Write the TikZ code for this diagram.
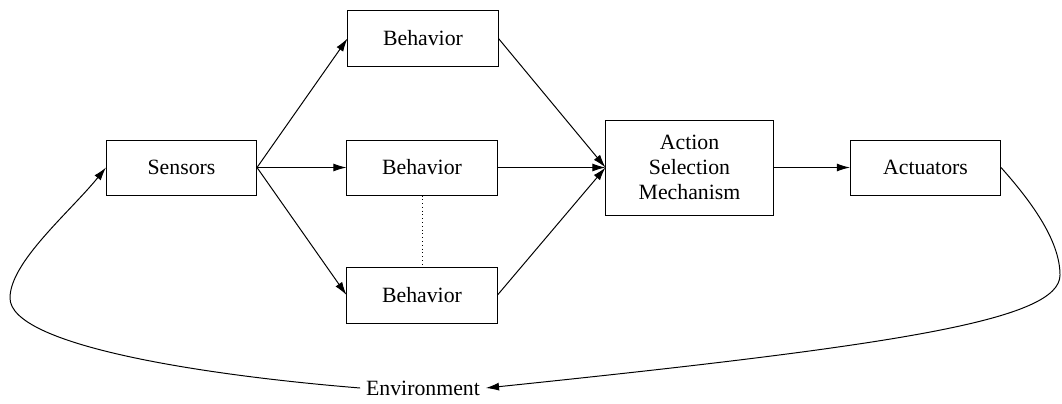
\documentclass[tikz,border=0pt]{standalone}
\usepackage{fontspec}
\setmainfont{Liberation Serif}
\usetikzlibrary{arrows.meta}

\begin{document}
\begin{tikzpicture}[x=0.025cm, y=-0.025cm,
    box/.style={draw, line width=0.7pt, minimum width=3.75cm, minimum height=1.4cm,
                align=center, font=\rmfamily\fontsize{15.5}{18}\selectfont},
    flow/.style={-{Latex[length=3.3mm,width=2mm]}, line width=0.7pt}]
    % --- 1. 外框 ---
    \useasboundingbox (0,0) rectangle (1062,403);

    % --- 2. 方塊 ---
    \node[box, minimum height=1.375cm] (sensors) at (181.5,167.5) {Sensors};
    \node[box] (behA) at (423,38.5) {Behavior};
    \node[box, minimum height=1.375cm] (behB) at (422,167.5) {Behavior};
    \node[box] (behC) at (422,295) {Behavior};
    \node[box, minimum width=4.175cm, minimum height=2.375cm] (asm) at (689.5,167.5)
        {Action\\Selection\\Mechanism};
    \node[box, minimum height=1.375cm] (actuators) at (925.5,167.5) {Actuators};
    \node[font=\rmfamily\fontsize{15.5}{18}\selectfont, inner sep=4pt] (env) at (423,388) {Environment};

    % --- 3. 箭頭 ---
    \draw[flow] (sensors.east) -- (behA.west);
    \draw[flow] (sensors.east) -- (behB.west);
    \draw[flow] (sensors.east) -- (behC.west);
    \draw[flow] (behA.east) -- (asm.west);
    \draw[flow] (behB.east) -- (asm.west);
    \draw[flow] (behC.east) -- (asm.west);
    \draw[flow] (asm.east) -- (actuators.west);
    \draw[line width=0.7pt, dotted] (behB.south) -- (behC.north);

    % --- 4. 環境迴路 ---
    \draw[flow] (actuators.east) .. controls (1030,200) and (1060,240) .. (1060,275)
        .. controls (1060,320) and (900,345) .. (env.east);
    \draw[flow] (env.west) .. controls (200,375) and (10,345) .. (10,298)
        .. controls (10,262) and (70,212) .. (sensors.west);
\end{tikzpicture}
\end{document}
